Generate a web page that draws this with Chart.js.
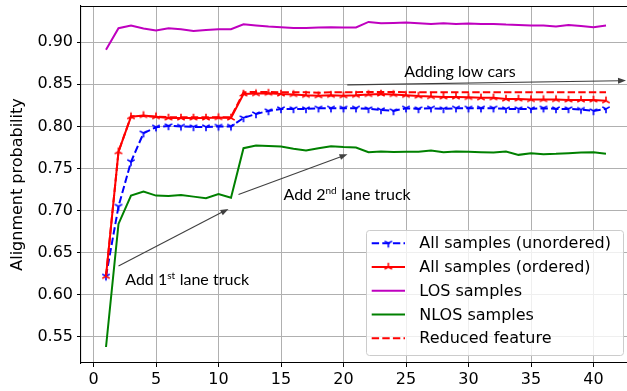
<!DOCTYPE html>
<html><head><meta charset="utf-8">
<script src="https://cdn.jsdelivr.net/npm/chart.js@4.4.1/dist/chart.umd.min.js"></script>
<style>
html,body{margin:0;padding:0;overflow:hidden;background:#fff;width:627px;height:391px}
#wrap{width:631px;height:391px;position:relative}
</style></head>
<body><div id="wrap"><canvas id="c" width="631" height="391"></canvas></div>
<script>
const xValues = [1,2,3,4,5,6,7,8,9,10,11,12,13,14,15,16,17,18,19,20,21,22,23,24,25,26,27,28,29,30,31,32,33,34,35,36,37,38,39,40,41];
const unordered = [0.622,0.705,0.758,0.792,0.799,0.8006,0.800,0.7994,0.7994,0.800,0.800,0.810,0.8148,0.8184,0.8208,0.8208,0.8208,0.8216,0.8216,0.8216,0.8216,0.8208,0.8196,0.8184,0.8216,0.8208,0.8216,0.8208,0.8216,0.8216,0.8216,0.8216,0.8208,0.8208,0.8208,0.8216,0.8208,0.8208,0.8200,0.8184,0.8208];
const ordered = [0.622,0.770,0.8116,0.8130,0.8116,0.8100,0.8100,0.8100,0.8100,0.8105,0.8100,0.8385,0.8390,0.8395,0.8385,0.8380,0.8370,0.8365,0.8370,0.8365,0.8370,0.8380,0.8385,0.8380,0.8370,0.8360,0.8355,0.8350,0.8350,0.8345,0.8340,0.8340,0.8325,0.8325,0.8320,0.8320,0.8320,0.8315,0.8315,0.8315,0.8305];
const los = [0.8909,0.9166,0.9198,0.9162,0.9138,0.9166,0.9154,0.9134,0.9146,0.9154,0.9154,0.9213,0.9198,0.9186,0.9178,0.9170,0.9170,0.9174,0.9178,0.9174,0.9176,0.9241,0.9225,0.9229,0.9233,0.9225,0.9217,0.9225,0.9217,0.9221,0.9217,0.9217,0.9209,0.9205,0.9198,0.9198,0.9186,0.9205,0.9193,0.9178,0.9198];
const nlos = [0.538,0.6842,0.7178,0.7226,0.7178,0.7174,0.7186,0.7166,0.7147,0.7198,0.7154,0.7741,0.7772,0.7768,0.7760,0.7735,0.7715,0.7741,0.7765,0.7755,0.7750,0.7694,0.7702,0.7696,0.7700,0.7700,0.7713,0.7694,0.7702,0.7698,0.7694,0.7690,0.7702,0.7662,0.7682,0.7670,0.7674,0.7682,0.7690,0.7694,0.7674];
const reduced = [0.622,0.770,0.8120,0.8125,0.8115,0.8110,0.8110,0.8110,0.8110,0.8110,0.8110,0.8405,0.8410,0.8410,0.8405,0.8405,0.8405,0.8400,0.8405,0.8405,0.8405,0.8410,0.8410,0.8410,0.8405,0.8405,0.8405,0.8405,0.8405,0.8405,0.8405,0.8405,0.8405,0.8405,0.8405,0.8405,0.8405,0.8405,0.8405,0.8405,0.8405];
const seriesLabels = ['All samples (unordered)','All samples (ordered)','LOS samples','NLOS samples','Reduced feature'];
const xTicks = [0,5,10,15,20,25,30,35,40];
const yTicks = [0.55,0.60,0.65,0.70,0.75,0.80,0.85,0.90];

const notes = [
  {parts:['Add 1','st',' lane truck'], at:[2.54,0.6118], from:[2.0,0.6343], to:[10.8,0.702]},
  {parts:['Add 2','nd',' lane truck'], at:[15.2,0.7127], from:[11.6,0.719], to:[20.32,0.767]},
  {parts:['Adding low cars'], at:[24.86,0.8591], from:[20.3,0.8493], to:[42.6,0.8544]}
];

function triMarker(color, up){
  const s=14,c=7,r=4.3;
  const cv=document.createElement('canvas');cv.width=s;cv.height=s;
  const g=cv.getContext('2d');g.strokeStyle=color;g.lineWidth=1.6;
  const d= up?[[0,-1],[-0.866,0.5],[0.866,0.5]]:[[0,1],[-0.866,-0.5],[0.866,-0.5]];
  g.beginPath();d.forEach(([a,b])=>{g.moveTo(c,c);g.lineTo(c+a*r,c+b*r);});g.stroke();
  return cv;
}
const pts = arr => xValues.map((x,i)=>({x:x,y:arr[i]}));
const blueM = triMarker('#0000ff', false), redM = triMarker('#ff0000', true);
const DASH=[7.4,3.2];
const datasets = [
  {label:seriesLabels[0],data:pts(unordered),borderColor:'#0000ff',borderWidth:2,borderDash:DASH,pointStyle:blueM,pointRadius:5,order:4,marker:blueM},
  {label:seriesLabels[1],data:pts(ordered),borderColor:'#ff0000',borderWidth:2,pointStyle:redM,pointRadius:5,order:3,marker:redM},
  {label:seriesLabels[2],data:pts(los),borderColor:'#bf00bf',borderWidth:2,pointRadius:0,order:2},
  {label:seriesLabels[3],data:pts(nlos),borderColor:'#008000',borderWidth:2,pointRadius:0,order:1},
  {label:seriesLabels[4],data:pts(reduced),borderColor:'#ff0000',borderWidth:2,borderDash:DASH,pointRadius:0,order:0}
];

const framePlugin = {
  id:'frame',
  beforeDatasetsDraw(chart){
    const {ctx,chartArea:a}=chart;
    ctx.save();ctx.strokeStyle='#000';ctx.lineWidth=1.1;
    ctx.beginPath();ctx.moveTo(a.left,a.top+0.5);ctx.lineTo(a.right,a.top+0.5);ctx.stroke();ctx.restore();
  }
};

const notePlugin = {
  id:'notes',
  afterDatasetsDraw(chart){
    const {ctx,scales:{x,y}}=chart;
    ctx.save();
    notes.forEach(n=>{
      const x1=x.getPixelForValue(n.from[0]),y1=y.getPixelForValue(n.from[1]);
      const x2=x.getPixelForValue(n.to[0]),y2=y.getPixelForValue(n.to[1]);
      const ang=Math.atan2(y2-y1,x2-x1),L=8,W=3;
      ctx.strokeStyle='#404040';ctx.fillStyle='#404040';ctx.lineWidth=1.1;
      ctx.beginPath();ctx.moveTo(x1,y1);ctx.lineTo(x2-Math.cos(ang)*L*0.8,y2-Math.sin(ang)*L*0.8);ctx.stroke();
      ctx.beginPath();ctx.moveTo(x2,y2);
      ctx.lineTo(x2-Math.cos(ang)*L-Math.sin(ang)*W,y2-Math.sin(ang)*L+Math.cos(ang)*W);
      ctx.lineTo(x2-Math.cos(ang)*L+Math.sin(ang)*W,y2-Math.sin(ang)*L-Math.cos(ang)*W);
      ctx.closePath();ctx.fill();
      let tx=x.getPixelForValue(n.at[0]);const ty=y.getPixelForValue(n.at[1]);
      ctx.fillStyle='#000';ctx.textBaseline='alphabetic';ctx.textAlign='left';
      n.parts.forEach((p,i)=>{
        const sup=(i===1);
        ctx.font=(sup?'10px':'16px')+' Lato';
        ctx.fillText(p,tx,sup?ty-6:ty);
        tx+=ctx.measureText(p).width+(sup?0.5:0);
      });
    });
    ctx.restore();
  }
};

const legendPlugin = {
  id:'boxLegend',
  afterDraw(chart){
    const {ctx,chartArea:a}=chart;
    const w=257,h=125;
    const right=a.right-8,bottom=a.bottom-8,left=right-w,top=bottom-h;
    ctx.save();
    ctx.beginPath();
    if(ctx.roundRect)ctx.roundRect(left+0.5,top+0.5,w,h,3);else ctx.rect(left+0.5,top+0.5,w,h);
    ctx.fillStyle='rgba(255,255,255,0.8)';ctx.fill();
    ctx.strokeStyle='#cccccc';ctx.lineWidth=1;ctx.stroke();
    chart.data.datasets.forEach((ds,i)=>{
      const cy=top+13.3+i*23.75;
      const hx0=left+5.7,hx1=left+39;
      ctx.strokeStyle=ds.borderColor;ctx.lineWidth=ds.borderWidth;
      ctx.setLineDash(ds.borderDash||[]);
      ctx.beginPath();ctx.moveTo(hx0,cy);ctx.lineTo(hx1,cy);ctx.stroke();
      ctx.setLineDash([]);
      if(ds.marker){ctx.drawImage(ds.marker,(hx0+hx1)/2-7,cy-7);}
      ctx.fillStyle='#000';ctx.font='16px "DejaVu Sans"';ctx.textBaseline='middle';ctx.textAlign='left';
      ctx.fillText(ds.label,left+53.3,cy+1);
    });
    ctx.restore();
  }
};

new Chart(document.getElementById('c'),{
  type:'line',
  data:{datasets:datasets},
  options:{
    responsive:false,animation:false,devicePixelRatio:1,
    layout:{autoPadding:false,padding:{left:0,right:0,top:6,bottom:0}},
    elements:{line:{tension:0,fill:false}},
    plugins:{legend:{display:false},tooltip:{enabled:false}},
    scales:{
      x:{type:'linear',min:-1,max:43,
        afterBuildTicks:s=>{s.ticks=xTicks.map(v=>({value:v}));},
        afterFit:s=>{s.height=28;s.paddingLeft=0;s.paddingRight=0;s.paddingTop=0;s.paddingBottom=0;},
        grid:{color:'#b0b0b0',lineWidth:1,tickColor:'#000',tickLength:4},
        border:{color:'#000',width:1.1},
        ticks:{color:'#000',font:{family:'DejaVu Sans',size:16},padding:3,maxRotation:0,callback:v=>String(v)}
      },
      y:{type:'linear',min:0.519,max:0.943,
        afterBuildTicks:s=>{s.ticks=yTicks.map(v=>({value:v}));},
        afterFit:s=>{s.width=81;s.paddingLeft=0;s.paddingRight=0;s.paddingTop=0;s.paddingBottom=0;},
        grid:{color:'#b0b0b0',lineWidth:1,tickColor:'#000',tickLength:4},
        border:{color:'#000',width:1.1},
        ticks:{color:'#000',font:{family:'DejaVu Sans',size:16},padding:4,callback:v=>Number(v).toFixed(2)},
        title:{display:true,text:'Alignment probability',color:'#000',font:{family:'DejaVu Sans',size:16},padding:{top:8,bottom:0}}
      }
    }
  },
  plugins:[framePlugin,notePlugin,legendPlugin]
});
</script></body></html>
